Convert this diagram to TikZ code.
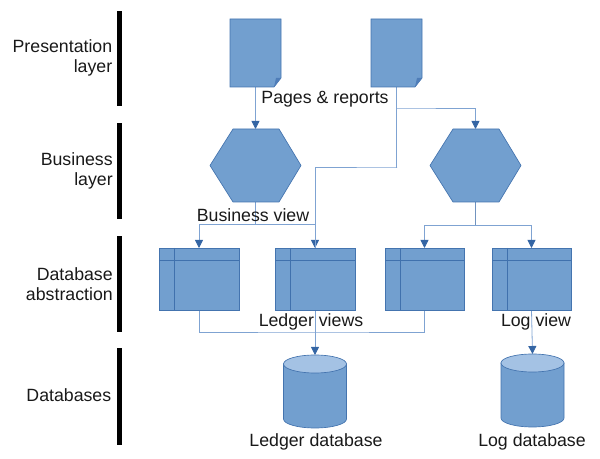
\documentclass[tikz,border=0pt]{standalone}
\usepackage{fontspec}
\setmainfont{Liberation Sans}
\usetikzlibrary{arrows.meta,calc}
\definecolor{shapefill}{HTML}{729FCF}
\definecolor{shapeline}{HTML}{3465A4}
\definecolor{cyltop}{HTML}{A4C2E4}
\definecolor{foldfill}{HTML}{4F7DB8}
\definecolor{linkcol}{HTML}{7FA3D2}
\tikzset{
  anchorbox/.style={inner sep=0pt,outer sep=0pt,minimum width=#1},
  shapeframe/.style={fill=shapefill,draw=shapeline!75!shapefill,line width=.5pt,line join=miter},
  innerrule/.style={draw=shapeline!80!shapefill,line width=.5pt},
  link/.style={draw=linkcol,line width=.6pt},
  linkarrow/.style={link,-{Triangle[length=6pt,width=6pt,color=shapeline]}},
  layerbar/.style={fill=black,draw=none,inner sep=0pt,outer sep=0pt,minimum width=3.4pt},
  lbl/.style={font=\fontsize{13.3pt}{15pt}\selectfont,inner sep=0pt,text=black!90,align=center},
  sidelbl/.style={lbl,align=right,anchor=east},
}
\newcommand\docshape[1]{%
  \path[shapeframe] (#1.north west) -- (#1.north east) -- ($(#1.south east)+(0,-9)$) -- ($(#1.south east)+(-7,0)$) -- (#1.south west) -- cycle;
  \path[fill=foldfill] ($(#1.south east)+(0,-9)$) -- ($(#1.south east)+(-5,-9)$) -- ($(#1.south east)+(-7,0)$) -- cycle;
}
\newcommand\hexshape[1]{%
  \path[shapeframe] (#1.west) -- ($(#1.north west)+(23,0)$) -- ($(#1.north east)+(-22,0)$) -- (#1.east) -- ($(#1.south east)+(-22,0)$) -- ($(#1.south west)+(23,0)$) -- cycle;
}
\newcommand\tableshape[1]{%
  \path[shapeframe] (#1.north west) rectangle (#1.south east);
  \path[innerrule] ($(#1.north west)+(0,12)$) -- ($(#1.north east)+(0,12)$);
  \path[innerrule] ($(#1.north west)+(15.5,0)$) -- ($(#1.south west)+(15.5,0)$);
}
\newcommand\cylshape[1]{%
  \path[shapeframe] ($(#1.north west)+(0,9)$) -- ($(#1.south west)+(0,-9)$) arc[start angle=180,end angle=360,x radius=31.5,y radius=-9] -- ($(#1.north east)+(0,9)$) -- cycle;
  \path[shapeframe,fill=cyltop] ($(#1.north)+(0,9)$) ellipse[x radius=31.5,y radius=9];
}
\begin{document}
\begin{tikzpicture}[x=.75pt,y=-.75pt]
\useasboundingbox (0,0) rectangle (600,459);
% anchors of the shapes
\node[anchorbox=38.25pt,minimum height=51pt] (doca) at (255.5,53) {};
\node[anchorbox=38.25pt,minimum height=51pt] (docb) at (396.5,53) {};
\node[anchorbox=68.25pt,minimum height=54.75pt] (hexa) at (255.5,165.5) {};
\node[anchorbox=68.25pt,minimum height=54.75pt] (hexb) at (475.5,165.5) {};
\node[anchorbox=60pt,minimum height=46.5pt] (taba) at (199,279) {};
\node[anchorbox=60pt,minimum height=46.5pt] (tabb) at (315,279) {};
\node[anchorbox=59.25pt,minimum height=46.5pt] (tabc) at (424.5,279) {};
\node[anchorbox=59.25pt,minimum height=46.5pt] (tabd) at (531.5,279) {};
\node[anchorbox=47.25pt,minimum height=54.75pt] (cyla) at (315,391.5) {};
\node[anchorbox=47.25pt,minimum height=54.75pt] (cylb) at (532.5,390.5) {};
\coordinate (splitb) at (397,108);
\coordinate (splitc) at (397,167);
\coordinate (busa) at (255.5,224);
\coordinate (busb) at (475.5,225);
\coordinate (busc) at (315,332);
% connectors
\draw[linkarrow] (doca.south) -- (hexa.north);
\draw[linkarrow] (docb.south) |- (splitb) -| (hexb.north);
\draw[linkarrow] (docb.south) |- (splitc) -| (tabb.north);
\draw[link] (hexa.south) -- (busa);
\draw[linkarrow] (busa) -| (taba.north);
\draw[link] (busa) -| (tabb.north);
\draw[link,draw=shapeline!70!white,line width=.8pt] (hexb.south) -- (busb);
\draw[linkarrow] (busb) -| (tabc.north);
\draw[linkarrow] (busb) -| (tabd.north);
\draw[link] (taba.south) |- (busc) -| (tabc.south);
\draw[linkarrow] (tabb.south) -- (cyla.north);
\draw[linkarrow] (tabd.south) -- (cylb.north);
% shapes
\docshape{doca}\docshape{docb}
\hexshape{hexa}\hexshape{hexb}
\tableshape{taba}\tableshape{tabb}\tableshape{tabc}\tableshape{tabd}
\cylshape{cyla}\cylshape{cylb}
% layer bars
\node[layerbar,minimum height=71.25pt] (bara) at (119.5,59) {};
\node[layerbar,minimum height=72pt] (barb) at (119.5,171.5) {};
\node[layerbar,minimum height=72pt] (barc) at (119.5,284.5) {};
\node[layerbar,minimum height=72.75pt] (bard) at (119.5,397) {};
% labels
\node[sidelbl] (la) at (112.5,58) {Presentation\\layer};
\node[sidelbl] (lb) at (113,171) {Business\\layer};
\node[sidelbl] (lc) at (113,284) {Database\\abstraction};
\node[sidelbl] (ld) at (111.5,395) {Databases};
\node[lbl] (pg) at (325,99) {Pages \& reports};
\node[lbl] (bv) at (253,215) {Business view};
\node[lbl] (lv) at (311,322) {Ledger views};
\node[lbl] (gv) at (536,322) {Log view};
\node[lbl] (ldb) at (316,442) {Ledger database};
\node[lbl] (gdb) at (532,442) {Log database};
\end{tikzpicture}
\end{document}
